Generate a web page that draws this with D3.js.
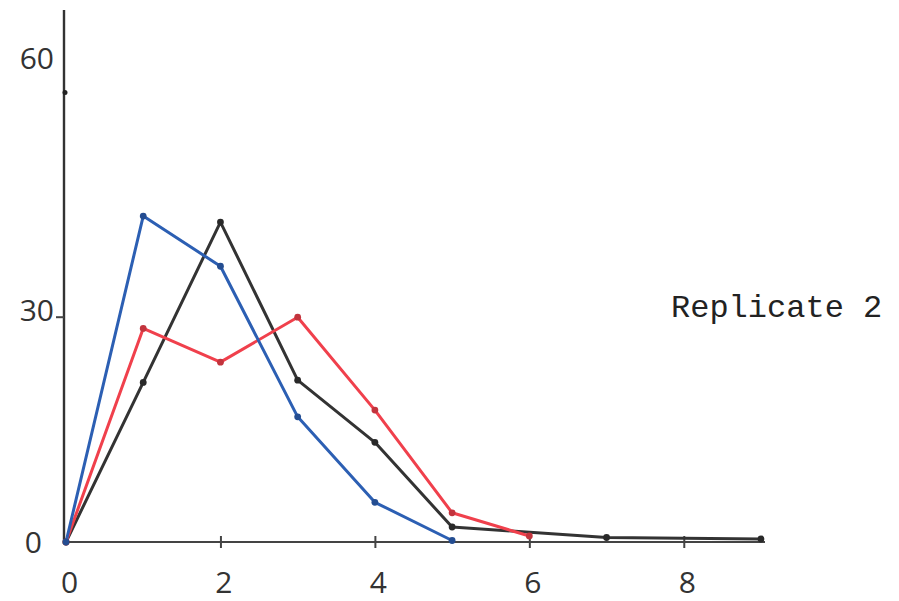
<!DOCTYPE html>
<html>
<head>
<meta charset="utf-8">
<script src="https://cdn.jsdelivr.net/npm/d3@7"></script>
<style>
  body { margin: 0; background: #fff; }
  svg { display: block; }
</style>
</head>
<body>
<script>
// Data
const xTicks = [0, 2, 4, 6, 8];
const yTicks = [0, 30, 60];

const blueX = [0, 1, 2, 3, 4, 5];
const blueY = [0, 43.5, 36.8, 16.7, 5.3, 0.2];

const redX = [0, 1, 2, 3, 4, 5, 6];
const redY = [0, 28.5, 24, 30, 17.6, 3.9, 0.8];

const blackX = [0, 1, 2, 3, 4, 5, 7, 9];
const blackY = [0, 21.3, 42.7, 21.6, 13.3, 2, 0.6, 0.4];

const label = 'Replicate 2';

const width = 899, height = 601;

const svg = d3.select('body')
  .append('svg')
  .attr('width', width)
  .attr('height', height);

// Scales
const x = d3.scaleLinear().domain([0, 9]).range([66, 761]);
const y = d3.scaleLinear().domain([0, 71]).range([542, 10]);

// Axis lines
svg.append('line')
  .attr('x1', x(0) - 2).attr('x2', x(0) - 2)
  .attr('y1', y(71)).attr('y2', y(0) + 2)
  .attr('stroke', '#333').attr('stroke-width', 2.4);

svg.append('line')
  .attr('x1', x(0)).attr('x2', x(9) + 4)
  .attr('y1', y(0)).attr('y2', y(0))
  .attr('stroke', '#444').attr('stroke-width', 2.2);

// x axis ticks and labels
const xAxis = svg.append('g')
  .attr('transform', `translate(0, ${y(0)})`)
  .call(d3.axisBottom(x).tickValues(xTicks).tickSize(0));
xAxis.select('.domain').remove();
xAxis.selectAll('.tick line')
  .attr('y1', -6).attr('y2', 6)
  .attr('stroke', '#444').attr('stroke-width', 2)
  .filter(d => d === 0).remove();
xAxis.selectAll('.tick text')
  .attr('y', 40).attr('dy', '0.35em').attr('dx', 3)
  .attr('fill', '#333')
  .style('font-family', "'Open Sans', sans-serif")
  .style('font-size', '30px');

// y axis labels
const yAxis = svg.append('g')
  .attr('transform', `translate(${x(0) - 2}, 0)`)
  .call(d3.axisLeft(y).tickValues(yTicks).tickSize(0));
yAxis.select('.domain').remove();
yAxis.selectAll('.tick line').remove();
yAxis.selectAll('.tick text')
  .attr('x', d => d === 0 ? -22 : -10)
  .attr('dy', d => d === 60 ? '-0.8em' : d === 30 ? '0.1em' : '0.35em')
  .attr('fill', '#333')
  .style('font-family', "'Open Sans', sans-serif")
  .style('font-size', '30px');

// small tick marks on the y axis
svg.append('line')
  .attr('x1', x(0) - 10).attr('x2', x(0) - 2)
  .attr('y1', y(30)).attr('y2', y(30))
  .attr('stroke', '#444').attr('stroke-width', 2);
svg.append('circle')
  .attr('cx', x(0) - 1).attr('cy', y(60)).attr('r', 2.5)
  .attr('fill', '#222');

// Series
const series = [
  { xs: blackX, ys: blackY, color: '#333333' },
  { xs: redX, ys: redY, color: '#f0404c' },
  { xs: blueX, ys: blueY, color: '#2c5fb3' }
];

const line = d3.line()
  .x(d => x(d[0]))
  .y(d => y(d[1]));

series.forEach(s => {
  const pts = s.xs.map((v, i) => [v, s.ys[i]]);
  svg.append('path')
    .datum(pts)
    .attr('d', line)
    .attr('fill', 'none')
    .attr('stroke', s.color)
    .attr('stroke-width', 3)
    .attr('stroke-linejoin', 'round');
  svg.selectAll(null)
    .data(pts)
    .enter()
    .append('circle')
    .attr('cx', d => x(d[0]))
    .attr('cy', d => y(d[1]))
    .attr('r', 3.4)
    .attr('fill', d3.color(s.color).darker(0.6));
});

// Label
svg.append('text')
  .attr('x', 671)
  .attr('y', 317)
  .attr('fill', '#222')
  .style('font-family', "'Liberation Mono', monospace")
  .style('font-size', '32px')
  .text(label);
</script>
</body>
</html>
